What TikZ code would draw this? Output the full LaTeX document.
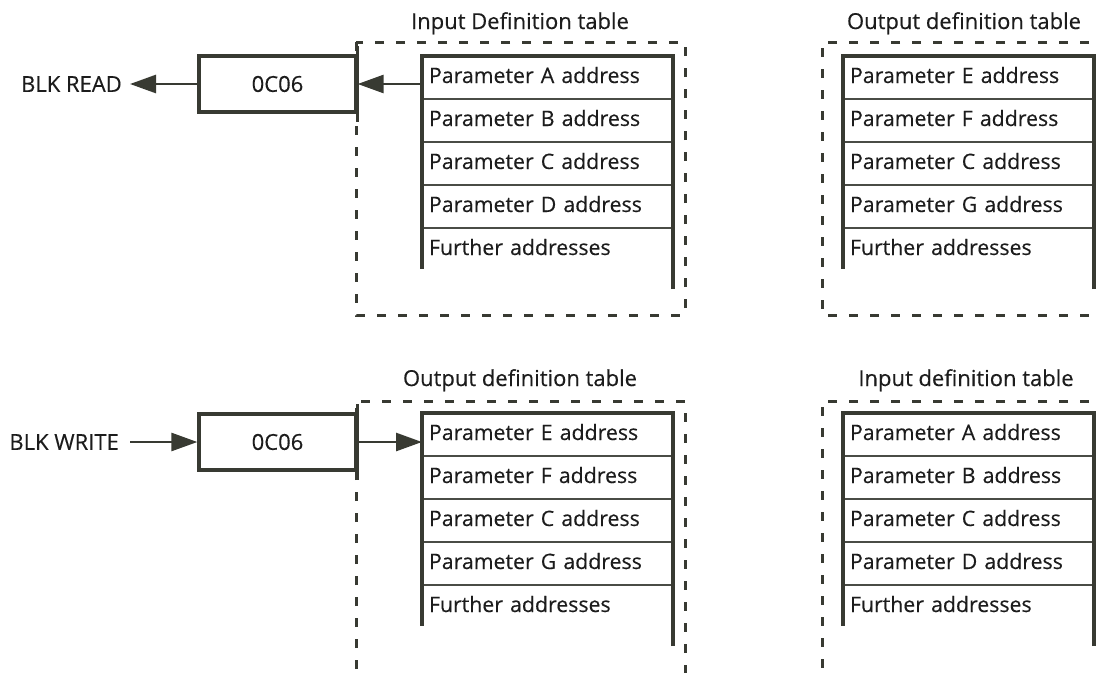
\documentclass[tikz,border=0pt]{standalone}
\usepackage{fontspec}
\setmainfont{Open Sans}[FakeBold=0.35]
\usetikzlibrary{arrows.meta}
\definecolor{ln}{RGB}{56,58,50}
\definecolor{sepc}{RGB}{74,76,70}
\definecolor{tx}{RGB}{28,28,28}
\newcommand{\drawtab}[7]{%
  \node[rowbox] (#1r1) at (#2,#3) {#4};
  \node[rowbox] (#1r2) at (#1r1.south west) {#5};
  \node[rowbox] (#1r3) at (#1r2.south west) {#6};
  \node[rowbox] (#1r4) at (#1r3.south west) {#7};
  \node[rowbox] (#1r5) at (#1r4.south west) {Further addresses};
  \foreach \i in {2,...,5} {\draw[sepline] (#1r\i.north west) -- (#1r\i.north east);}
  \draw[tabline] ([yshift=-18pt]#1r5.south east) -- (#1r1.north east) -- (#1r1.north west) -- ([yshift=2pt]#1r5.south west);
}
\begin{document}
\begin{tikzpicture}[x=1pt,y=-1pt,
  every node/.style={font=\fontsize{22}{26}\selectfont, text=tx},
  frame/.style={draw=ln, line width=3pt, dash pattern=on 9pt off 12pt},
  rowbox/.style={font=\fontsize{21.3}{25}\selectfont, minimum width=251pt, minimum height=43pt, inner xsep=7pt, inner ysep=0pt, outer sep=0pt, text width=237pt, align=left, text height=15pt, text depth=4pt, anchor=north west},
  tabline/.style={draw=ln, line width=3.3pt},
  sepline/.style={draw=sepc, line width=1.8pt},
  codebox/.style={draw=ln, line width=3.3pt, minimum width=157pt, minimum height=56pt, inner sep=0pt},
  arr/.style={draw=ln, line width=2.7pt, -{Triangle[length=26pt,width=18pt]}},
  title/.style={anchor=base},
]
\useasboundingbox (0,0) rectangle (1097,672);
\clip (0,0) rectangle (1097,672);

% dashed frames
\draw[frame] (356,42) rectangle (685,315);
\draw[frame] (1110,42) -- (822,42) -- (822,315) -- (1110,315);
\draw[frame] (356,690) -- (356,401) -- (685,401) -- (685,690);
\draw[frame] (1110,401) -- (822,401) -- (822,690);

% titles
\node[title] (t1) at (520,29) {Input Definition table};
\node[title] (t2) at (964,29) {Output definition table};
\node[title] (t3) at (520,386) {Output definition table};
\node[title] (t4) at (966,386) {Input definition table};

% tables
\drawtab{a}{422}{56}{Parameter A address}{Parameter B address}{Parameter C address}{Parameter D address}
\drawtab{b}{843}{56}{Parameter E address}{Parameter F address}{Parameter C address}{Parameter G address}
\drawtab{c}{422}{413}{Parameter E address}{Parameter F address}{Parameter C address}{Parameter G address}
\drawtab{d}{843}{413}{Parameter A address}{Parameter B address}{Parameter C address}{Parameter D address}

% code boxes
\node[codebox] (box1) at (277.5,84) {0C06};
\node[codebox] (box2) at (277.5,442) {0C06};
\draw[tabline] ([yshift=8pt]box1.north east) -- ([yshift=-8pt]box1.south east);
\draw[tabline] ([yshift=8pt]box2.north east) -- ([yshift=-8pt]box2.south east);

% labels
\node[anchor=east, inner xsep=8pt] (blkr) at (130,84) {BLK READ};
\node[anchor=east, inner xsep=11pt] (blkw) at (130,442) {BLK WRITE};

% arrows
\draw[arr] (box1.west) -- (blkr.east);
\draw[arr] (box1.east -| ar1.west) -- (box1.east);
\draw[arr] (blkw.east) -- (box2.west);
\draw[arr] (box2.east) -- (box2.east -| cr1.west);
\end{tikzpicture}
\end{document}
